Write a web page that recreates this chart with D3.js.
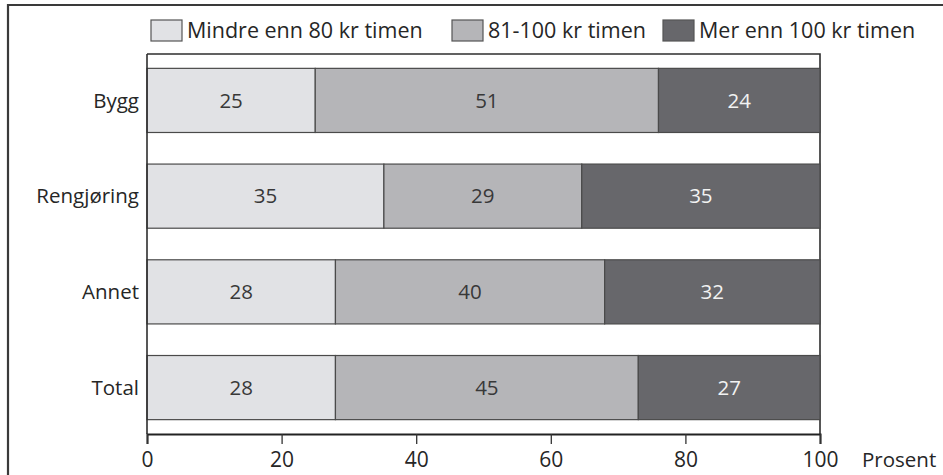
<!DOCTYPE html>
<html>
<head>
<meta charset="utf-8">
<script src="https://cdn.jsdelivr.net/npm/d3@7"></script>
<style>
  html, body { margin: 0; padding: 0; background: #fff; }
  svg { display: block; font-family: "Open Sans", "DejaVu Sans", sans-serif; }
</style>
</head>
<body>
<svg id="chart" width="943" height="475"></svg>
<script>
// ---- data ----
const categories = ["Bygg", "Rengjøring", "Annet", "Total"];
const seriesNames = ["Mindre enn 80 kr timen", "81-100 kr timen", "Mer enn 100 kr timen"];
const lowValues  = [25, 35.2, 28, 28];
const midValues  = [51, 29.4, 40, 45];
const highValues = [24, 35.4, 32, 27];
const xTicks = [0, 20, 40, 60, 80, 100];
const axisTitle = "Prosent";

const colors = ["#e1e2e5", "#b5b5b8", "#67676b"];
const labelColors = ["#383838", "#383838", "#f2f2f2"];

const svg = d3.select("#chart");

// outer frame
svg.append("path")
  .attr("d", "M8,476 L8,5 L944,5")
  .attr("fill", "none").attr("stroke", "#3a3a3a").attr("stroke-width", 2.2);

const plot = { left: 147, right: 820, top: 54, bottom: 434 };

const x = d3.scaleLinear().domain([0, 100]).range([plot.left, plot.right]);
const y = d3.scaleBand().domain(categories).range([plot.top, plot.bottom])
  .paddingInner(0.33).paddingOuter(0.15);

// build stacked table
const table = categories.map((c, i) => ({
  cat: c, s0: lowValues[i], s1: midValues[i], s2: highValues[i]
}));
const stack = d3.stack().keys(["s0", "s1", "s2"])(table);

// plot frame (top, right)
svg.append("path")
  .attr("d", `M${plot.left},${plot.top} L${plot.right},${plot.top} L${plot.right},${plot.bottom}`)
  .attr("fill", "none").attr("stroke", "#2e2e2e").attr("stroke-width", 1.6);

// bars
stack.forEach((layer, k) => {
  const g = svg.append("g");
  g.selectAll("rect").data(layer).join("rect")
    .attr("x", d => x(d[0]))
    .attr("y", d => y(d.data.cat))
    .attr("width", d => x(d[1]) - x(d[0]))
    .attr("height", y.bandwidth())
    .attr("fill", colors[k])
    .attr("stroke", "#4a4a4a").attr("stroke-width", 1.2);
  g.selectAll("text").data(layer).join("text")
    .attr("x", d => (x(d[0]) + x(d[1])) / 2)
    .attr("y", d => y(d.data.cat) + y.bandwidth() / 2)
    .attr("dy", "0.35em")
    .attr("text-anchor", "middle")
    .attr("font-size", 20.5)
    .attr("fill", labelColors[k])
    .text(d => d3.format(".0f")(d[1] - d[0]));
});

// left axis line (no ticks)
svg.append("line")
  .attr("x1", plot.left).attr("x2", plot.left)
  .attr("y1", plot.top).attr("y2", plot.bottom)
  .attr("stroke", "#2e2e2e").attr("stroke-width", 1.6);

// category labels
svg.append("g").selectAll("text").data(categories).join("text")
  .attr("x", 139)
  .attr("y", d => y(d) + y.bandwidth() / 2)
  .attr("dy", "0.35em")
  .attr("text-anchor", "end")
  .attr("font-size", 20.5)
  .attr("fill", "#262626")
  .text(d => d);

// x axis
const xAxis = svg.append("g")
  .attr("transform", `translate(0,${plot.bottom})`)
  .call(d3.axisBottom(x).tickValues(xTicks).tickSize(10).tickPadding(8).tickFormat(d3.format("d")));
xAxis.select(".domain").attr("stroke", "#222").attr("stroke-width", 2);
xAxis.selectAll(".tick line").attr("stroke", "#333").attr("stroke-width", 1.3);
xAxis.selectAll(".tick text")
  .attr("font-size", 21).attr("fill", "#262626")
  .attr("font-family", "\"Open Sans\", sans-serif");

svg.append("text")
  .attr("x", 862).attr("y", 467)
  .attr("font-size", 20.5).attr("fill", "#262626")
  .text(axisTitle);

// legend
const legendX = [151, 452, 663];
const leg = svg.append("g").selectAll("g").data(seriesNames).join("g")
  .attr("transform", (d, i) => `translate(${legendX[i]},0)`);
leg.append("rect")
  .attr("x", 0).attr("y", 20).attr("width", 31).attr("height", 21)
  .attr("fill", (d, i) => colors[i])
  .attr("stroke", "#555").attr("stroke-width", 1.2);
leg.append("text")
  .attr("x", 36).attr("y", 38)
  .attr("font-size", 21.5).attr("fill", "#262626")
  .text(d => d);
</script>
</body>
</html>
